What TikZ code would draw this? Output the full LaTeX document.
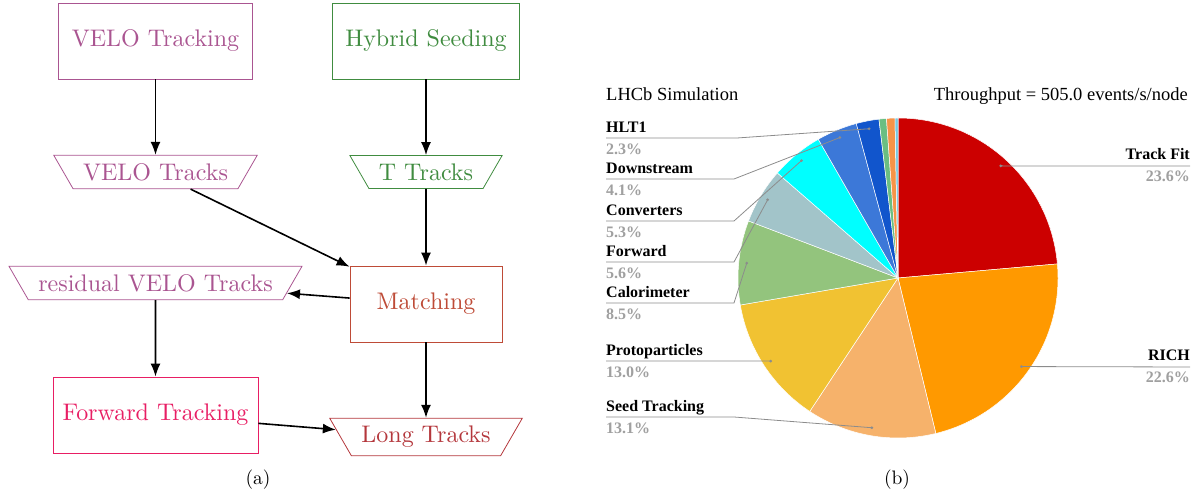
\documentclass[tikz,border=0pt]{standalone}
\usepackage{fontspec}
\newfontfamily\tnr{Liberation Serif}
\newfontfamily\lmten{lmroman10-regular}[Extension=.otf]
\usetikzlibrary{shapes.geometric,arrows.meta}
\definecolor{cvelo}{RGB}{170,85,145}
\definecolor{chyb}{RGB}{64,140,64}
\definecolor{cmatch}{RGB}{190,75,55}
\definecolor{cfwd}{RGB}{232,30,100}
\definecolor{clong}{RGB}{180,55,60}
\definecolor{cTF}{RGB}{204,0,0}
\definecolor{cRICH}{RGB}{255,153,0}
\definecolor{cSeed}{RGB}{246,178,107}
\definecolor{cProto}{RGB}{241,194,50}
\definecolor{cCalo}{RGB}{147,196,125}
\definecolor{cFwdP}{RGB}{162,196,201}
\definecolor{cConv}{RGB}{0,255,255}
\definecolor{cDown}{RGB}{60,120,216}
\definecolor{cHlt}{RGB}{17,85,204}
\definecolor{cRestA}{RGB}{106,190,130}
\definecolor{cRestB}{RGB}{246,148,72}
\definecolor{cRestC}{RGB}{120,200,225}
\definecolor{pctgray}{RGB}{160,160,160}
\definecolor{calgray}{RGB}{140,140,140}
\tikzset{
  proc/.style={draw, line width=0.8pt, minimum height=76pt, minimum width=152pt,
    inner xsep=13pt, font=\lmten\fontsize{24}{28}\selectfont},
  trk/.style={draw, line width=0.8pt, trapezium, shape border rotate=180,
    trapezium angle=60, inner xsep=10pt, inner ysep=8pt, font=\lmten\fontsize{24}{28}\selectfont},
  flow/.style={-{Latex[length=13pt,width=10pt]}, line width=1.6pt},
  lbl/.style={inner sep=0pt, font=\tnr\bfseries\fontsize{16}{19}\selectfont},
  pct/.style={lbl, text=pctgray},
  callout/.style={draw=calgray, line width=0.8pt},
}
\begin{document}
\begin{tikzpicture}[x=1pt,y=1pt]
\useasboundingbox (0,0) rectangle (1200,495);
% (a) tracking sequence
\node[proc, draw=cvelo, text=cvelo] (vtrk) at (155.5,454) {VELO Tracking};
\node[proc, draw=chyb, text=chyb] (hyb) at (426,454) {Hybrid Seeding};
\node[trk, draw=cvelo, text=cvelo] (vtks) at (155.5,323) {VELO Tracks};
\node[trk, draw=chyb, text=chyb] (ttks) at (426,323) {T Tracks};
\node[proc, draw=cmatch, text=cmatch] (match) at (426,191) {Matching};
\node[trk, draw=cvelo, text=cvelo] (resid) at (155.5,212) {residual VELO Tracks};
\node[proc, draw=cfwd, text=cfwd, inner xsep=9.5pt] (fwd) at (155.5,80) {Forward Tracking};
\node[trk, draw=clong, text=clong] (long) at (426,58) {Long Tracks};
\draw[flow] (vtrk) -- (vtks);
\draw[flow] (hyb) -- (ttks);
\draw[flow] (vtks) -- (match);
\draw[flow] (ttks) -- (match);
\draw[flow] (match) -- (resid);
\draw[flow] (resid) -- (fwd);
\draw[flow] (match) -- (long);
\draw[flow] (fwd) -- (long);
\node[font=\lmten\fontsize{19.5}{23}\selectfont] (capa) at (258,15) {(a)};
% (b) throughput pie
\coordinate (pie) at (898,217);
\foreach \a/\b/\c in {0/23.6/cTF, 23.6/46.2/cRICH, 46.2/59.3/cSeed, 59.3/72.3/cProto,
  72.3/80.8/cCalo, 80.8/86.4/cFwdP, 86.4/91.7/cConv, 91.7/95.8/cDown, 95.8/98.1/cHlt,
  98.1/98.85/cRestA, 98.85/99.7/cRestB, 99.7/100/cRestC}
  \filldraw[fill=\c, draw=white, line width=0.5pt] (pie) -- ++({90-3.6*\a}:160pt)
    arc[start angle={90-3.6*\a}, end angle={90-3.6*\b}, radius=160pt] -- cycle;
\foreach \m/\n in {47.52/tf, -35.64/rich, -99.9/seed, -146.88/proto, -185.58/calo,
  -210.96/fwd, -230.58/conv, -247.5/down, -259.02/hlt}
  \path (pie) ++(\m:152pt) coordinate (d\n);
\node[anchor=base west, inner sep=0pt, font=\tnr\fontsize{18.5}{22}\selectfont] (sim) at (606,394) {LHCb Simulation};
\node[anchor=base east, inner sep=0pt, font=\tnr\fontsize{18.5}{22}\selectfont] (thru) at (1188,394) {Throughput = 505.0 events/s/node};
% left labels
\foreach \n/\t/\v/\y/\bx in {hlt/HLT1/2.3/357/737, down/Downstream/4.1/316/734,
  conv/Converters/5.3/274/734, fwd/Forward/5.6/233/734, calo/Calorimeter/8.5/192/734,
  proto/Protoparticles/13.0/134/734, seed/Seed Tracking/13.1/78/734} {
  \node[lbl, anchor=base west] (l\n) at (606,\y+5) {\t};
  \node[pct, anchor=base west] (p\n) at (606,\y-17) {\v\%};
  \coordinate (u\n) at (606,\y);
  \draw[callout] (u\n) -- (\bx,\y) -- (d\n);
}
% right labels
\foreach \n/\t/\v/\y in {tf/Track Fit/23.6/329, rich/RICH/22.6/128} {
  \node[lbl, anchor=base east] (l\n) at (1190,\y+6) {\t};
  \node[pct, anchor=base east] (p\n) at (1190,\y-16) {\v\%};
  \coordinate (u\n) at (1190,\y);
  \draw[callout] (d\n) -- (u\n);
}
\foreach \n in {tf,rich,seed,proto,calo,fwd,conv,down,hlt}
  \fill[calgray] (d\n) circle (1.5pt);
\node[font=\lmten\fontsize{19.5}{23}\selectfont] (capb) at (897,15) {(b)};
\end{tikzpicture}
\end{document}
